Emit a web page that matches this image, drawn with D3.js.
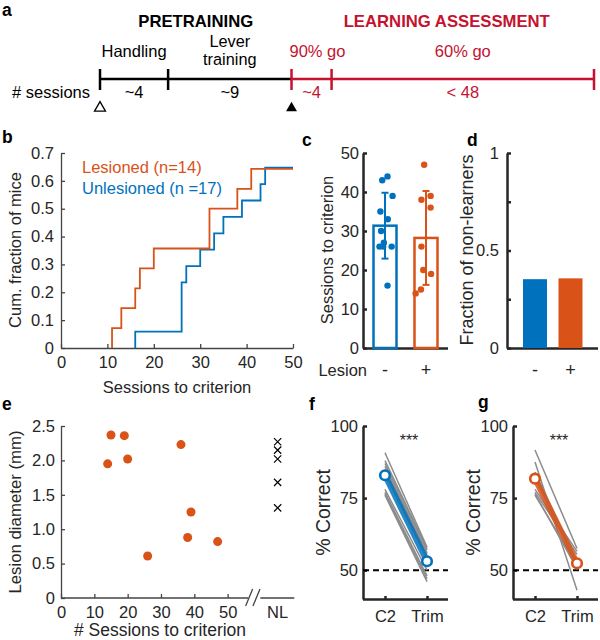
<!DOCTYPE html>
<html><head><meta charset="utf-8">
<script src="https://cdn.jsdelivr.net/npm/d3@7"></script>
<style>body{margin:0;background:#fff}svg{display:block}</style>
</head><body><svg id="fig" width="600" height="640"></svg>
<script>
// ---------------- DATA ----------------
// Panel a (schematic timeline; widths are schematic, not to scale)
const phaseNames = ["Handling", "Lever training", "90% go", "60% go"];
const phaseSessions = ["~4", "~9", "~4", "< 48"];
const phaseGroup = ["PRETRAINING", "PRETRAINING", "LEARNING ASSESSMENT", "LEARNING ASSESSMENT"];
const phaseSchematicWidth = [1.7, 3.08, 1.0, 6.55];

// Panel b: sessions to criterion for each learner (CDF)
const cdfLesioned = [11, 13, 16, 17, 20, 32, 32, 38, 41];
const cdfUnlesioned = [16, 26, 26, 26, 27, 30, 33, 35, 39, 43, 44];
const nLesioned = 14, nUnlesioned = 17;
const legendLabels = ["Lesioned (n=14)", "Unlesioned (n =17)"];

// Panel c: sessions to criterion (learners)
const lesionCats = ["-", "+"];
const sessUnlesioned = [16, 26, 26, 26, 27, 30, 33, 35, 39, 43, 44];
const sessLesioned = [14, 15, 19, 20, 26, 36, 38, 39, 47];
const jitterUnlesioned = [0.11, -0.24, -0.08, 0.29, -0.05, -0.17, 0.12, -0.2, 0.33, -0.12, 0.11];
const jitterLesioned = [-0.45, -0.22, 0.22, -0.12, -0.2, 0.2, -0.2, 0.2, -0.08];

// Panel d: learners / totals
const totals = [17, 14];
const learners = [11, 9];

// Panel e: lesion diameter vs sessions
const eSessions = [14, 15, 19, 20, 26, 36, 38, 39, 47];
const eDiameter = [1.95, 2.37, 2.36, 2.02, 0.61, 2.23, 0.88, 1.25, 0.82];
const nlDiameter = [2.27, 2.15, 2.02, 1.68, 1.31];

// Panels f, g: % correct C2 vs Trim
const conds = ["C2", "Trim"];
const fC2   = [90.7, 88, 87, 86, 85, 84.5, 83.5, 78, 77, 76.5, 76];
const fTrim = [58, 57.5, 57, 56, 55.5, 55, 54, 50, 48, 47, 46];
const gC2   = [91.7, 87.5, 84, 83, 82, 78, 77, 76.5, 76];
const gTrim = [57.5, 43, 53, 52, 51.5, 56.5, 55.5, 50.5, 52];

// ---------------- STYLE ----------------
const BLUE = "#0072BD", ORANGE = "#D95319", RED = "#C4122F", INK = "#262626";
const FONT = '"Liberation Sans", Arial, Helvetica, sans-serif';
const svg = d3.select("#fig").attr("font-family", FONT);

function text(x, y, s, o = {}) {
  const t = svg.append("text").attr("x", x).attr("y", y).text(s)
    .attr("font-size", o.size || 16).attr("fill", o.fill || INK)
    .attr("text-anchor", o.anchor || "start");
  if (o.bold) t.attr("font-weight", "bold");
  if (o.rotate) t.attr("transform", `rotate(-90,${x},${y})`);
  return t;
}
function styleAxis(g, w, col, size) {
  g.attr("font-family", FONT).attr("font-size", size || 16);
  g.selectAll("path.domain").attr("stroke", col).attr("stroke-width", w);
  g.selectAll(".tick line").attr("stroke", col).attr("stroke-width", w);
  g.selectAll(".tick text").attr("fill", INK);
}
// panel letters
[["a", 2, 16], ["b", 2, 143], ["c", 302, 146], ["d", 467, 146], ["e", 2, 410], ["f", 309, 410], ["g", 478, 408]]
  .forEach(([l, x, y]) => text(x, y, l, { bold: true, size: 17.5, fill: "#000" }));

// ---------------- PANEL A ----------------
{
  const cum = [0]; phaseSchematicWidth.forEach(w => cum.push(cum[cum.length - 1] + w));
  const x = d3.scaleLinear().domain([0, cum[cum.length - 1]]).range([100, 594]);
  const ly = 79;
  const colOf = i => phaseGroup[i] === "PRETRAINING" ? "#000" : RED;
  phaseNames.forEach((n, i) => {
    svg.append("line").attr("x1", x(cum[i])).attr("x2", x(cum[i + 1])).attr("y1", ly).attr("y2", ly)
      .attr("stroke", colOf(i)).attr("stroke-width", 2.5);
  });
  cum.forEach((c, i) => {
    const col = i < 2 ? "#000" : RED;
    svg.append("line").attr("x1", x(c)).attr("x2", x(c)).attr("y1", ly - 10).attr("y2", ly + 11)
      .attr("stroke", col).attr("stroke-width", 2.5);
  });
  phaseNames.forEach((n, i) => {
    const cx = (x(cum[i]) + x(cum[i + 1])) / 2;
    const col = colOf(i);
    if (n === "Lever training") {
      text(cx, 47, "Lever", { anchor: "middle", fill: col, size: 16.3 });
      text(cx, 65, "training", { anchor: "middle", fill: col, size: 16.3 });
    } else if (n === "90% go") {
      text(x(cum[i]) - 2, 57, n, { anchor: "start", fill: col, size: 16.5 });
    } else {
      text(cx, 57, n, { anchor: "middle", fill: col, size: 16.5 });
    }
    text(cx, 98, phaseSessions[i], { anchor: "middle", fill: col, size: 16.5 });
  });
  text(90, 98, "# sessions", { anchor: "end", fill: "#000", size: 16.5 });
  const groups = Array.from(new Set(phaseGroup));
  groups.forEach(g => {
    const idx = phaseGroup.map((p, i) => p === g ? i : -1).filter(i => i >= 0);
    const cx = (x(cum[idx[0]]) + x(cum[idx[idx.length - 1] + 1])) / 2;
    text(cx + (g === "PRETRAINING" ? 0 : 4), 27, g, { anchor: "middle", bold: true, size: 16.7, fill: g === "PRETRAINING" ? "#000" : RED });
  });
  const tri = d3.symbol().type(d3.symbolTriangle).size(52);
  svg.append("path").attr("d", tri()).attr("transform", `translate(${x(cum[0])},108)`)
    .attr("fill", "#fff").attr("stroke", "#000").attr("stroke-width", 1.3);
  svg.append("path").attr("d", tri()).attr("transform", `translate(${x(cum[2])},108)`)
    .attr("fill", "#000");
}

// ---------------- PANEL B ----------------
{
  const x = d3.scaleLinear().domain([0, 50]).range([61, 293]);
  const y = d3.scaleLinear().domain([0, 0.7]).range([348, 153]);
  const gx = svg.append("g").attr("transform", `translate(0,${y(0)})`)
    .call(d3.axisBottom(x).ticks(5).tickSizeInner(-4).tickSizeOuter(0).tickPadding(8));
  const gy = svg.append("g").attr("transform", `translate(${x(0)},0)`)
    .call(d3.axisLeft(y).ticks(7).tickSizeInner(-4).tickSizeOuter(0).tickPadding(7).tickFormat(d => d === 0 ? "0" : d3.format(".1f")(d)));
  styleAxis(gx, 1.3, "#444", 16.5); styleAxis(gy, 1.3, "#444", 16.5);
  const line = d3.line().x(d => x(d[0])).y(d => y(d[1])).curve(d3.curveStepAfter);
  function cdf(arr, n) {
    const s = arr.slice().sort((a, b) => a - b);
    const u = Array.from(new Set(s));
    const pts = [[u[0], 0]];
    u.forEach(v => pts.push([v, s.filter(q => q <= v).length / n]));
    pts.push([50, s.length / n]);
    return pts;
  }
  svg.append("path").attr("d", line(cdf(cdfUnlesioned, nUnlesioned))).attr("fill", "none").attr("stroke", BLUE).attr("stroke-width", 1.8);
  svg.append("path").attr("d", line(cdf(cdfLesioned, nLesioned))).attr("fill", "none").attr("stroke", ORANGE).attr("stroke-width", 1.8);
  text(82, 173, legendLabels[0], { fill: ORANGE, size: 16.5 });
  text(82, 194, legendLabels[1], { fill: BLUE, size: 16.5 });
  text(177, 393, "Sessions to criterion", { anchor: "middle", size: 16.5 });
  text(21, 250, "Cum. fraction of mice", { anchor: "middle", size: 16.5, rotate: true });
}

// ---------------- PANEL C ----------------
{
  const x = d3.scalePoint().domain(lesionCats).range([385, 426]);
  const y = d3.scaleLinear().domain([0, 50]).range([348, 153]);
  const bw = 23;
  const gx = svg.append("g").attr("transform", `translate(0,${y(0)})`)
    .call(d3.axisBottom(x).tickSizeInner(-3).tickSizeOuter(0).tickFormat(""));
  gx.select("path.domain").attr("d", `M363,0.5H448`);
  const gy = svg.append("g").attr("transform", `translate(363,0)`)
    .call(d3.axisLeft(y).ticks(5).tickSizeInner(-4).tickSizeOuter(0).tickPadding(4));
  styleAxis(gx, 2.5, INK, 16.5); styleAxis(gy, 2.5, INK, 16.5);
  const sets = [[sessUnlesioned, jitterUnlesioned, BLUE], [sessLesioned, jitterLesioned, ORANGE]];
  sets.forEach(([vals, jit, col], i) => {
    const cx = x(lesionCats[i]);
    const m = d3.mean(vals), sd = d3.deviation(vals);
    svg.append("rect").attr("x", cx - bw / 2).attr("width", bw).attr("y", y(m)).attr("height", y(0) - y(m))
      .attr("fill", "#fff").attr("stroke", col).attr("stroke-width", 2.5);
    svg.append("g").selectAll("circle").data(vals).join("circle")
      .attr("cx", (d, j) => cx + jit[j] * bw).attr("cy", d => y(d)).attr("r", 3.2).attr("fill", col);
    svg.append("line").attr("x1", cx).attr("x2", cx).attr("y1", y(m - sd)).attr("y2", y(m + sd)).attr("stroke", col).attr("stroke-width", 2);
    [m - sd, m + sd].forEach(v => svg.append("line").attr("x1", cx - 3.5).attr("x2", cx + 3.5).attr("y1", y(v)).attr("y2", y(v)).attr("stroke", col).attr("stroke-width", 2));
    text(cx, 376, lesionCats[i], { anchor: "middle", size: 18 });
  });
  text(367, 376, "Lesion", { anchor: "end", size: 16.5 });
  text(333, 250, "Sessions to criterion", { anchor: "middle", size: 16.5, rotate: true });
}

// ---------------- PANEL D ----------------
{
  const x = d3.scalePoint().domain(lesionCats).range([535, 570.5]);
  const y = d3.scaleLinear().domain([0, 1]).range([348, 153]);
  const bw = 24;
  const gx = svg.append("g").attr("transform", `translate(0,${y(0)})`)
    .call(d3.axisBottom(x).tickSize(0).tickFormat(""));
  gx.select("path.domain").attr("d", `M507,0.5H598`);
  const gy = svg.append("g").attr("transform", `translate(507,0)`)
    .call(d3.axisLeft(y).tickValues([0, 0.25, 0.5, 0.75, 1]).tickSizeInner(-4).tickSizeOuter(0).tickPadding(8)
      .tickFormat(d => (d === 0 || d === 0.5 || d === 1) ? String(d) : ""));
  styleAxis(gx, 2.5, INK, 16.5); styleAxis(gy, 2.5, INK, 16.5);
  const frac = totals.map((t, i) => (t - learners[i]) / t);
  svg.append("g").selectAll("rect").data(frac).join("rect")
    .attr("x", (d, i) => x(lesionCats[i]) - bw / 2).attr("width", bw)
    .attr("y", d => y(d)).attr("height", d => y(0) - y(d))
    .attr("fill", (d, i) => i === 0 ? BLUE : ORANGE);
  lesionCats.forEach(c => text(x(c), 376, c, { anchor: "middle", size: 18 }));
  text(473, 250, "Fraction of non-learners", { anchor: "middle", size: 18, rotate: true });
}

// ---------------- PANEL E ----------------
{
  const x = d3.scaleLinear().domain([0, 70]).range([61, 294.3]);
  const y = d3.scaleLinear().domain([0, 2.5]).range([598, 426]);
  const nlPos = 65;
  const gx = svg.append("g").attr("transform", `translate(0,${y(0)})`)
    .call(d3.axisBottom(x).tickValues([0, 10, 20, 30, 40, 50]).tickSizeInner(-4).tickSizeOuter(0).tickPadding(8));
  gx.select("path.domain").attr("d", `M${x(0)},0H${x(56.2)}M${x(59.8)},0H${x(70)}`);
  const gy = svg.append("g").attr("transform", `translate(${x(0)},0)`)
    .call(d3.axisLeft(y).ticks(5).tickSizeInner(-4).tickSizeOuter(0).tickPadding(6)
      .tickFormat(d => d === 0 ? "0" : d3.format(".1f")(d)));
  styleAxis(gx, 1.3, "#444", 16.5); styleAxis(gy, 1.3, "#444", 16.5);
  // axis break
  [55.4, 57.6].forEach(v => svg.append("line").attr("x1", x(v)).attr("x2", x(v) + 7).attr("y1", y(0) + 8).attr("y2", y(0) - 9)
    .attr("stroke", "#444").attr("stroke-width", 1.3));
  gx.append("text").attr("x", x(nlPos)).attr("y", 8).attr("dy", "0.71em").attr("text-anchor", "middle").attr("fill", INK).text("NL");
  svg.append("g").selectAll("circle").data(eSessions).join("circle")
    .attr("cx", d => x(d)).attr("cy", (d, i) => y(eDiameter[i])).attr("r", 4.5).attr("fill", ORANGE);
  const cross = d3.symbol().type(d3.symbolX).size(36);
  svg.append("g").selectAll("path").data(nlDiameter).join("path")
    .attr("d", cross()).attr("transform", d => `translate(${x(nlPos)},${y(d)})`)
    .attr("fill", "none").attr("stroke", "#000").attr("stroke-width", 1.2);
  text(160, 636, "# Sessions to criterion", { anchor: "middle", size: 17.5 });
  text(21, 512, "Lesion diameter (mm)", { anchor: "middle", size: 16.8, rotate: true });
}

// ---------------- PANELS F, G ----------------
function pairPanel(x0, x1, cx0, cx1, c2, trim, col) {
  const x = d3.scalePoint().domain(conds).range([cx0, cx1]);
  const y = d3.scaleLinear().domain([40, 100]).range([599, 426]);
  const gx = svg.append("g").attr("transform", `translate(0,${y(40)})`)
    .call(d3.axisBottom(x).tickSizeInner(-3).tickSizeOuter(0).tickPadding(11));
  gx.select("path.domain").attr("d", `M${x0},0.5H${x1}`);
  const gy = svg.append("g").attr("transform", `translate(${x0},0)`)
    .call(d3.axisLeft(y).tickValues([50, 75, 100]).tickSizeInner(-4).tickSizeOuter(0).tickPadding(5));
  styleAxis(gx, 2.5, INK, 16.5); styleAxis(gy, 2.5, INK, 16.5);
  svg.append("line").attr("x1", x0).attr("x2", x1).attr("y1", y(50)).attr("y2", y(50))
    .attr("stroke", "#000").attr("stroke-width", 2).attr("stroke-dasharray", "6,4");
  svg.append("g").selectAll("line").data(c2).join("line")
    .attr("x1", x("C2")).attr("x2", x("Trim")).attr("y1", d => y(d)).attr("y2", (d, i) => y(trim[i]))
    .attr("stroke", "#8c8c8c").attr("stroke-width", 1.5);
  const m0 = d3.mean(c2), m1 = d3.mean(trim);
  svg.append("line").attr("x1", x("C2")).attr("x2", x("Trim")).attr("y1", y(m0)).attr("y2", y(m1))
    .attr("stroke", col).attr("stroke-width", 6).attr("stroke-opacity", 0.85);
  [[x("C2"), m0], [x("Trim"), m1]].forEach(([cx, m]) => svg.append("circle").attr("cx", cx).attr("cy", y(m)).attr("r", 4.8)
    .attr("fill", "#fff").attr("stroke", col).attr("stroke-width", 2.6));
  text((cx0 + cx1) / 2 + 3, 446, "***", { anchor: "middle", size: 16 });
  text(x0 - 33, y(70), "% Correct", { anchor: "middle", size: 19.5, rotate: true });
}
pairPanel(363, 448, 385, 427, fC2, fTrim, BLUE);
pairPanel(513, 598, 535, 577, gC2, gTrim, ORANGE);
</script></body></html>
